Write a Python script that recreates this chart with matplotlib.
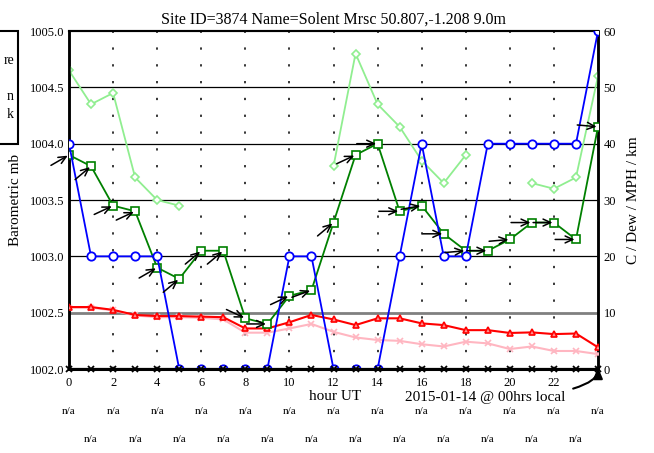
import matplotlib.pyplot as plt
import matplotlib.transforms as mtransforms
import numpy as np

plt.rcParams['font.family'] = ['Liberation Serif', 'DejaVu Serif']

nan = np.nan
hours = list(range(25))

# barometric pressure, mb (left axis)
pressure = [1004.65, 1004.35, 1004.45, 1003.70, 1003.50, 1003.45, nan, nan, nan, nan,
            nan, nan, 1003.80, 1004.80, 1004.35, 1004.15, 1003.85, 1003.65, 1003.90,
            nan, nan, 1003.65, 1003.60, 1003.70, 1004.60]
# visibility, km
visibility = [40, 20, 20, 20, 20, 0, 0, 0, 0, 0, 20, 20, 0, 0, 0, 20, 40, 20, 20,
              40, 40, 40, 40, 40, 60]
# wind speed, MPH
wind = [38, 36, 29, 28, 18, 16, 21, 21, 9, 8, 13, 14, 26, 38, 40, 28, 29, 24, 21,
        21, 23, 26, 26, 23, 43]
# direction the wind arrow points (degrees, 0 = east)
wind_arrow = [30, 40, 25, 25, 30, 40, 40, 40, -25, 0, 25, 20, 40, 25, 0, 0, 10,
              0, 5, 0, 5, 0, 0, 0, -5]
# temperature, C
temp = [11.0, 11.0, 10.5, 9.6, 9.4, 9.4, 9.3, 9.2, 7.2, 7.2, 8.3, 9.6, 8.8, 7.8,
        9.0, 9.0, 8.1, 7.8, 6.9, 6.9, 6.4, 6.5, 6.2, 6.3, 3.85]
# dew point, C
dew = [10.9, 10.9, 10.4, 9.5, 9.2, 9.2, 9.1, 8.8, 6.45, 6.45, 7.2, 8.0, 6.6, 5.6,
       5.15, 5.0, 4.4, 4.0, 4.85, 4.55, 3.55, 4.0, 3.2, 3.2, 2.65]
# rain
rain = [0] * 25

title = 'Site ID=3874 Name=Solent Mrsc 50.807,-1.208 9.0m'

fig = plt.figure(figsize=(6.54, 4.53), dpi=100)
ax = fig.add_axes([0.1055, 0.1854, 0.8089, 0.7461])
ax2 = ax.twinx()

ax.set_xlim(0, 24)
ax.set_ylim(1002.0, 1005.0)
ax2.set_ylim(0, 60)

# grid
for y in np.arange(1003.0, 1005.0, 0.5):
    ax.axhline(y, color='black', lw=0.9, zorder=1)
ax.axhline(1002.5, color='#808080', lw=2, zorder=1)
for x in range(2, 24, 2):
    ax.axvline(x, color='black', lw=1.1, ls=(0, (1.5, 9.5)), zorder=1)

ax.plot(hours, pressure, color='#90ee90', marker='D', ms=4, mfc='white',
        mec='#90ee90', mew=1.2, lw=1.3, zorder=3)

ax2.plot(hours, dew, color='#ffb6c1', marker='x', ms=5, mew=1.2, lw=1.5, zorder=3)
ax2.plot(hours, temp, color='red', marker='^', ms=5, mfc='#ff9090', mec='red',
         mew=1.2, lw=1.5, zorder=3)
ax2.plot(hours, wind, color='green', marker='s', ms=6, mfc='white', mec='green',
         mew=1.2, lw=1.3, zorder=3)
ax2.plot(hours, visibility, color='blue', marker='o', ms=6, mfc='white', mec='blue',
         mew=1.3, lw=1.3, zorder=4)
ax2.plot(hours, rain, color='black', marker='x', ms=4, mew=1.3, lw=2.2, zorder=5,
         clip_on=False)

# wind direction arrows
L = 15
for h, w, a in zip(hours, wind, wind_arrow):
    r = np.radians(a)
    ax2.annotate('', xy=(h, w), xytext=(-L * np.cos(r), -L * np.sin(r)),
                 textcoords='offset points', zorder=6,
                 arrowprops=dict(arrowstyle='->,head_length=0.55,head_width=0.25',
                                 color='black', lw=1.1, shrinkA=0, shrinkB=1))

ax.set_xticks(range(0, 24, 2))
ax.set_yticks(np.arange(1002.0, 1005.01, 0.5))
ax.set_yticklabels(['%.1f' % v for v in np.arange(1002.0, 1005.01, 0.5)])
ax2.set_yticks(range(0, 61, 10))
ax.tick_params(axis='y', length=0, labelsize=9, pad=3)
ax.tick_params(axis='x', length=0, labelsize=9, pad=6)
ax2.tick_params(length=0, labelsize=9, pad=4)

for a in (ax, ax2):
    a.spines['left'].set_linewidth(1.8)
    a.spines['right'].set_linewidth(1.8)
    a.spines['top'].set_linewidth(1.5)
    a.spines['bottom'].set_linewidth(1.5)

ax.set_ylabel('Barometric mb', fontsize=11, labelpad=6)
ax2.set_ylabel('C / Dew / MPH / km', fontsize=11, labelpad=8)
ax.set_title(title, fontsize=11.5, pad=5)

fig.text(335 / 654, 1 - 397 / 453, 'hour UT', fontsize=11, ha='center', va='center')
ax2.annotate('2015-01-14 @ 00hrs local', xy=(24, 0.3), xycoords='data',
             xytext=(565 / 654, 1 - 397 / 453), textcoords='figure fraction',
             fontsize=11, ha='right', va='center',
             arrowprops=dict(arrowstyle='-|>,head_length=0.6,head_width=0.25',
                             color='black', lw=1.5, shrinkA=4, shrinkB=0,
                             connectionstyle='angle3,angleA=0,angleB=90'))

# n/a rows
trans = mtransforms.blended_transform_factory(ax.transData, fig.transFigure)
for h in range(0, 25, 2):
    fig.text(h, 1 - 412 / 453, 'n/a', transform=trans, fontsize=8, ha='center',
             va='center')
for h in range(1, 24, 2):
    fig.text(h, 1 - 440 / 453, 'n/a', transform=trans, fontsize=8, ha='center',
             va='center')

# legend box (cut off by the left edge)
fig.patches.append(plt.Rectangle((-0.05, 1 - 144 / 453), 0.05 + 18 / 654, 113 / 453,
                                 transform=fig.transFigure, fill=False,
                                 edgecolor='black', lw=1.5))
fig.text(14 / 654, 1 - 60 / 453, 're', fontsize=10, ha='right', va='center')
fig.text(14 / 654, 1 - 97 / 453, 'n', fontsize=10, ha='right', va='center')
fig.text(14 / 654, 1 - 115 / 453, 'k', fontsize=10, ha='right', va='center')

fig.savefig('out.png', dpi=100)
